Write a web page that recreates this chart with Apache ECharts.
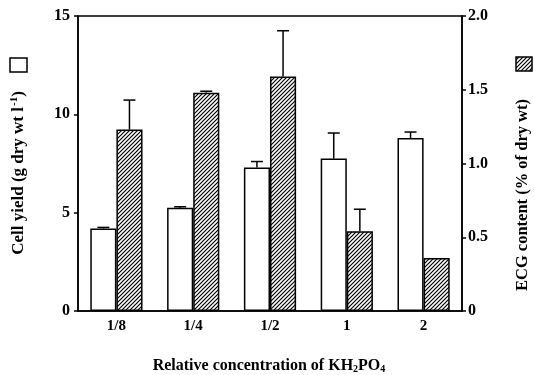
<!DOCTYPE html>
<html>
<head>
<meta charset="utf-8">
<script src="https://cdn.jsdelivr.net/npm/echarts@6/dist/echarts.min.js"></script>
<style>
html,body{margin:0;padding:0;background:#fff;}
#chart{width:534px;height:375px;}
</style>
</head>
<body>
<div id="chart"></div>
<script>
// data
var concentrations = ['1/8', '1/4', '1/2', '1', '2'];
var cellYield = [4.2, 5.25, 7.3, 7.75, 8.8];      // g dry wt l-1
var cellYieldErr = [0.05, 0.05, 0.3, 1.3, 0.3];
var ecgContent = [1.23, 1.48, 1.59, 0.54, 0.36];   // % of dry wt
var ecgContentErr = [0.2, 0.01, 0.31, 0.15, 0];
var leftTicks = [0, 5, 10, 15];
var rightTicks = [0, 0.5, 1.0, 1.5, 2.0];

var font = 'Liberation Serif';
var BAR_FRAC = 0.34;

// hatch pattern for the ECG bars
var hatch = document.createElement('canvas');
hatch.width = 4; hatch.height = 4;
var hc = hatch.getContext('2d');
hc.fillStyle = '#fff';
hc.fillRect(0, 0, 4, 4);
hc.strokeStyle = '#000';
hc.lineWidth = 1.2;
hc.beginPath();
hc.moveTo(-1, 5); hc.lineTo(5, -1);
hc.moveTo(-1, 1); hc.lineTo(1, -1);
hc.moveTo(3, 5); hc.lineTo(5, 3);
hc.stroke();

function errRender(side, vals, errs) {
  return function (params, api) {
    var i = api.value(0);
    var v = vals[i], e = errs[i];
    if (!e) return null;
    var band = api.size([1, 0])[0];
    var p0 = api.coord([i, v]);
    var p1 = api.coord([i, v + e]);
    var x = p0[0] + side * band * BAR_FRAC / 2;
    var cap = 6;
    return {
      type: 'group',
      children: [
        {type: 'line', shape: {x1: x, y1: p0[1], x2: x, y2: p1[1]}, style: {stroke: '#000', lineWidth: 1.5}},
        {type: 'line', shape: {x1: x - cap, y1: p1[1], x2: x + cap, y2: p1[1]}, style: {stroke: '#000', lineWidth: 1.5}}
      ]
    };
  };
}

var chart = echarts.init(document.getElementById('chart'));
var labelStyle = {fontFamily: font, fontWeight: 'bold', fontSize: 16, color: '#000'};

var option = {
  animation: false,
  backgroundColor: '#fff',
  grid: {left: 78, right: 72, top: 16, bottom: 64, show: true, borderColor: '#000', borderWidth: 1.5, backgroundColor: 'transparent'},
  xAxis: {
    type: 'category',
    data: concentrations,
    axisLine: {lineStyle: {color: '#000', width: 1.5}},
    axisTick: {show: false},
    axisLabel: Object.assign({margin: 8}, labelStyle, {fontSize: 15})
  },
  yAxis: [
    {
      type: 'value', min: leftTicks[0], max: leftTicks[leftTicks.length - 1], interval: 5,
      axisLine: {show: true, lineStyle: {color: '#000', width: 1.5}},
      axisTick: {show: true, length: 4, lineStyle: {color: '#000', width: 1.5}},
      splitLine: {show: false},
      axisLabel: Object.assign({margin: 8}, labelStyle)
    },
    {
      type: 'value', min: rightTicks[0], max: rightTicks[rightTicks.length - 1], interval: 0.5,
      position: 'right',
      axisLine: {show: true, lineStyle: {color: '#000', width: 1.5}},
      axisTick: {show: true, length: 4, lineStyle: {color: '#000', width: 1.5}},
      splitLine: {show: false},
      axisLabel: Object.assign({margin: 6, formatter: function (v) { return v === 0 ? '0' : v.toFixed(1); }}, labelStyle)
    }
  ],
  series: [
    {
      name: 'Cell yield', type: 'bar', yAxisIndex: 0, data: cellYield,
      barWidth: (BAR_FRAC * 100) + '%', barGap: '0%',
      itemStyle: {color: '#fff', borderColor: '#000', borderWidth: 1.5}
    },
    {
      name: 'ECG content', type: 'bar', yAxisIndex: 1, data: ecgContent,
      barWidth: (BAR_FRAC * 100) + '%', barGap: '0%',
      itemStyle: {color: {image: hatch, repeat: 'repeat'}, borderColor: '#000', borderWidth: 1.5}
    },
    {
      type: 'custom', yAxisIndex: 0, z: 1,
      data: concentrations.map(function (c, i) { return [i]; }),
      renderItem: errRender(-1, cellYield, cellYieldErr)
    },
    {
      type: 'custom', yAxisIndex: 1, z: 1,
      data: concentrations.map(function (c, i) { return [i]; }),
      renderItem: errRender(1, ecgContent, ecgContentErr)
    }
  ],
  graphic: [
    {type: 'rect', shape: {x: 10, y: 58, width: 17, height: 14}, style: {fill: '#fff', stroke: '#000', lineWidth: 1.5}},
    {type: 'rect', shape: {x: 516, y: 57, width: 16, height: 14}, style: {fill: {image: hatch, repeat: 'repeat'}, stroke: '#000', lineWidth: 1.5}},
    {
      type: 'text', x: 19, y: 173, rotation: Math.PI / 2,
      style: {
        text: '{b|Cell yield (g dry wt l}{s|-1}{b|)}',
        align: 'center', verticalAlign: 'middle',
        rich: {
          b: {fontFamily: font, fontWeight: 'bold', fontSize: 17, fill: '#000', lineHeight: 20, verticalAlign: 'middle'},
          s: {fontFamily: font, fontWeight: 'bold', fontSize: 11, fill: '#000', lineHeight: 20, verticalAlign: 'top', padding: [0, 0, 6, 1]}
        }
      }
    },
    {
      type: 'text', x: 523, y: 195, rotation: Math.PI / 2,
      style: {
        text: 'ECG content (% of dry wt)',
        align: 'center', verticalAlign: 'middle',
        fontFamily: font, fontWeight: 'bold', fontSize: 16.5, fill: '#000'
      }
    },
    {
      type: 'text', x: 269, y: 366,
      style: {
        text: '{b|Relative concentration of KH}{s|2}{b|PO}{s|4}',
        align: 'center', verticalAlign: 'middle',
        rich: {
          b: {fontFamily: font, fontWeight: 'bold', fontSize: 16, fill: '#000', lineHeight: 18},
          s: {fontFamily: font, fontWeight: 'bold', fontSize: 10, fill: '#000', lineHeight: 18, padding: [6, 0, 0, 0]}
        }
      }
    }
  ]
};
chart.setOption(option);
</script>
</body>
</html>
